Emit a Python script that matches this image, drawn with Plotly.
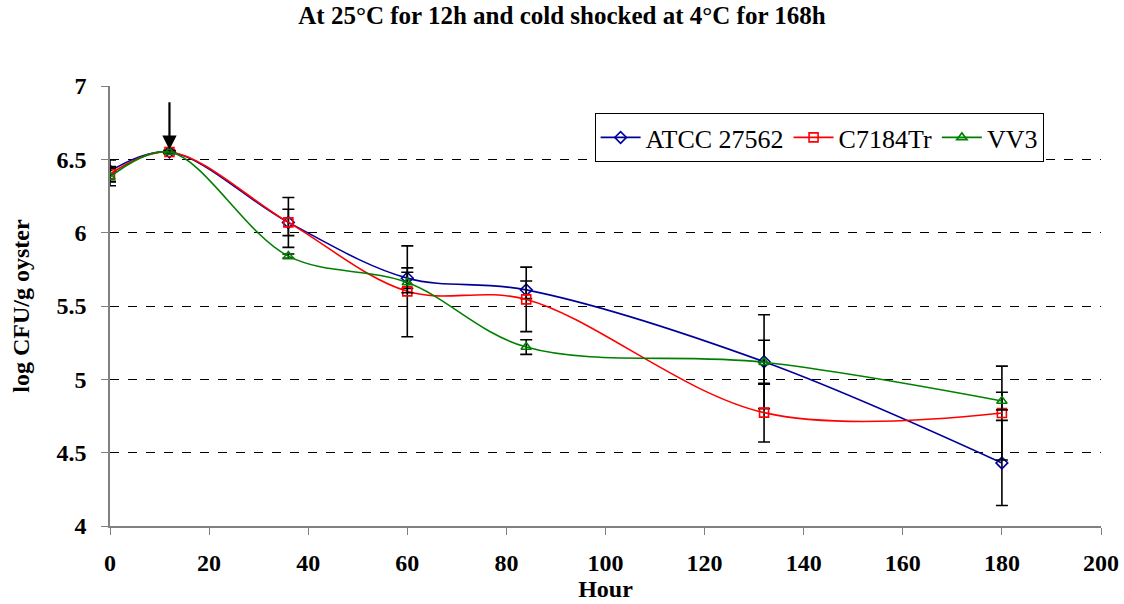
import plotly.graph_objects as go

hours = [0, 12, 36, 60, 84, 132, 180]

atcc = [6.42, 6.55, 6.07, 5.69, 5.61, 5.12, 4.43]
atcc_err = [0.075, 0.01, 0.17, 0.07, 0.06, 0.32, 0.29]

c7184 = [6.40, 6.55, 6.07, 5.60, 5.545, 4.773, 4.77]
c7184_err = [0.05, 0.01, 0.09, 0.31, 0.22, 0.20, 0.32]

vv3 = [6.38, 6.55, 5.84, 5.66, 5.22, 5.116, 4.852]
vv3_err = [0.06, 0.01, 0.015, 0.07, 0.05, 0.15, 0.06]

x_ticks = list(range(0, 201, 20))
y_ticks = [4, 4.5, 5, 5.5, 6, 6.5, 7]

names = ["ATCC 27562", "C7184Tr", "VV3"]
colors = ["#000099", "#FF0000", "#008000"]
symbols = ["diamond-open", "square-open", "triangle-up-open"]

fig = go.Figure()
for name, ys, errs, col, sym in zip(names, [atcc, c7184, vv3], [atcc_err, c7184_err, vv3_err], colors, symbols):
    fig.add_trace(go.Scatter(
        x=hours, y=ys, name=name, mode="lines+markers",
        line=dict(color=col, width=1.6, shape="spline", smoothing=1.0),
        marker=dict(symbol=sym, size=9, color=col, line=dict(color=col, width=1.6)),
        error_y=dict(type="data", array=errs, visible=True, color="black", thickness=1.6, width=6),
    ))

fig.add_annotation(
    x=12, y=6.565, ax=12, ay=6.9, xref="x", yref="y", axref="x", ayref="y",
    text="", showarrow=True, arrowhead=2, arrowsize=1.3, arrowwidth=2.2, arrowcolor="black",
)

font_family = "Liberation Serif, Times New Roman, serif"
fig.update_layout(
    width=1124, height=604,
    margin=dict(l=110, r=23, t=86, b=78),
    paper_bgcolor="white", plot_bgcolor="white",
    font=dict(family=font_family, color="black"),
    title=dict(text="<b>At 25°C for 12h and cold shocked at 4°C for 168h</b>",
               x=0.5, xanchor="center", y=0.99, yanchor="top",
               font=dict(size=25, family=font_family)),
    legend=dict(orientation="h", x=0.489, y=0.9386, xanchor="left", yanchor="top",
                bordercolor="black", borderwidth=1, bgcolor="white",
                font=dict(size=26, family=font_family), itemwidth=40),
    showlegend=True,
)
fig.update_xaxes(
    range=[0, 200], tickvals=x_ticks, ticktext=[f"<b>{v}</b>" for v in x_ticks],
    showgrid=False, zeroline=False, automargin=False,
    showline=True, linecolor="#808080", linewidth=2,
    ticks="outside", ticklen=7, tickcolor="#808080", tickwidth=1,
    ticklabelstandoff=7,
    tickfont=dict(size=24, family=font_family),
    title=dict(text="<b>Hour</b>", font=dict(size=24, family=font_family), standoff=4),
)
fig.update_yaxes(
    range=[4, 7], tickvals=y_ticks,
    ticktext=[f"<b>{v:g}</b>" for v in y_ticks],
    showgrid=True, gridcolor="black", griddash="dash", gridwidth=1,
    zeroline=False, automargin=False,
    showline=True, linecolor="#808080", linewidth=1.5,
    ticks="outside", ticklen=7, tickcolor="#808080",
    ticklabelstandoff=10,
    tickfont=dict(size=24, family=font_family),
    title=dict(text="<b>log CFU/g oyster</b>", font=dict(size=24, family=font_family), standoff=20),
)

fig.write_html("out.html")
